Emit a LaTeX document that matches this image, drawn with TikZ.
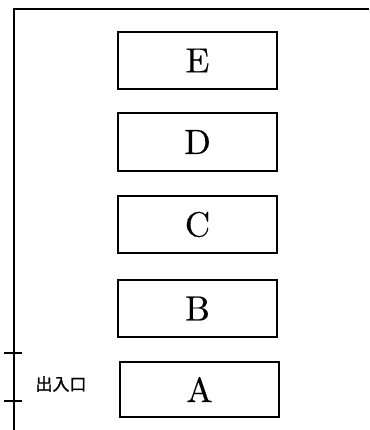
\documentclass[tikz,border=0pt]{standalone}
\usepackage{fontspec}
\newfontfamily\cjk[FakeBold=1.2]{Noto Sans CJK JP}
\newfontfamily\lmten[FakeBold=0.4]{lmroman10-regular.otf}
\begin{document}
\begin{tikzpicture}[x=1pt,y=-1pt,
  line width=1.5pt,
  room/.style={draw, line width=1.5pt, minimum width=159pt, minimum height=57pt, inner sep=0pt, font=\lmten\fontsize{35}{35}\selectfont},
  wall/.style={line width=1.5pt}]
\useasboundingbox (0,0) rectangle (369,430);
\coordinate (tl) at (14,9);
\coordinate (tr) at (369,9);
\coordinate (bl) at (14,430);
\draw[wall] (tr) -- (tl) -- (bl);
\coordinate (t1a) at (4,353);
\coordinate (t1b) at (22,353);
\coordinate (t2a) at (4,401);
\coordinate (t2b) at (22,401);
\draw[wall] (t1a) -- (t1b);
\draw[wall] (t2a) -- (t2b);
\node[room] (E) at (197.5,60.5) {E};
\node[room, minimum height=58pt] (D) at (197.5,142) {D};
\node[room] (C) at (197.5,224.5) {C};
\node[room] (B) at (197.5,308.5) {B};
\node[room, minimum height=55pt] (A) at (199.5,389.5) {A};
\node[font=\cjk\fontsize{17}{17}\selectfont, inner sep=0pt] (door) at (61,384) {出入口};
\end{tikzpicture}
\end{document}
